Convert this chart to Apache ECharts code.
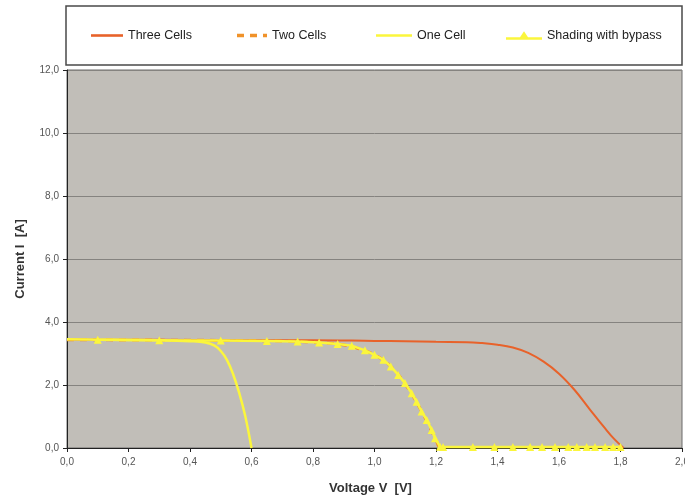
<!DOCTYPE html>
<html>
<head>
<meta charset="utf-8">
<script src="https://cdn.jsdelivr.net/npm/echarts@6/dist/echarts.min.js"></script>
<style>html,body{margin:0;padding:0;background:#fff}#c{width:685px;height:500px}</style>
</head>
<body>
<div id="c"></div>
<script>
// Data (Voltage V, Current A)
var seriesNames = ['Three Cells', 'Two Cells', 'One Cell', 'Shading with bypass'];
var xTicks = [0, 0.2, 0.4, 0.6, 0.8, 1.0, 1.2, 1.4, 1.6, 1.8, 2.0];
var yTicks = [0, 2, 4, 6, 8, 10, 12];

var threeCellsV = [0, 0.1, 0.2, 0.4, 0.6, 0.8, 1.0, 1.1, 1.2, 1.3, 1.35, 1.4, 1.45, 1.5, 1.55, 1.6, 1.65, 1.7, 1.75, 1.78, 1.81];
var threeCellsI = [3.45, 3.44, 3.44, 3.43, 3.42, 3.42, 3.40, 3.39, 3.37, 3.36, 3.33, 3.28, 3.19, 3.02, 2.74, 2.36, 1.85, 1.23, 0.62, 0.28, 0];

var twoCellsV = [0, 0.2, 0.4, 0.6, 0.7, 0.8, 0.85, 0.9, 0.95, 1.0, 1.05, 1.1, 1.15, 1.2, 1.21];
var twoCellsI = [3.44, 3.43, 3.42, 3.41, 3.40, 3.36, 3.33, 3.27, 3.15, 2.96, 2.62, 2.03, 1.22, 0.25, 0];

var oneCellV = [0, 0.1, 0.2, 0.3, 0.4, 0.45, 0.48, 0.5, 0.52, 0.54, 0.56, 0.58, 0.6];
var oneCellI = [3.45, 3.44, 3.43, 3.42, 3.39, 3.35, 3.25, 3.08, 2.80, 2.35, 1.75, 1.0, 0];

var shadingV = [0.1, 0.3, 0.5, 0.65, 0.75, 0.82, 0.88, 0.926, 0.969, 1.0, 1.029, 1.053, 1.077, 1.099, 1.121, 1.137, 1.153, 1.17, 1.186, 1.197, 1.213, 1.223, 1.32, 1.39, 1.45, 1.506, 1.545, 1.587, 1.63, 1.658, 1.69, 1.717, 1.75, 1.776, 1.8];
var shadingI = [3.44, 3.42, 3.41, 3.40, 3.38, 3.35, 3.30, 3.25, 3.10, 2.96, 2.80, 2.59, 2.32, 2.06, 1.74, 1.47, 1.16, 0.89, 0.57, 0.31, 0.04, 0.03, 0.03, 0.03, 0.03, 0.03, 0.03, 0.03, 0.03, 0.03, 0.03, 0.03, 0.03, 0.03, 0.03];

function pairs(xs, ys) { return xs.map(function (x, i) { return [x, ys[i]]; }); }
function fmt(v) { return v.toFixed(1).replace('.', ','); }

var YEL = '#fbf63c';
var ORG = '#e8622a';
var ORG2 = '#f0922a';
var FONT = 'Liberation Sans, Arial, sans-serif';
var chart = echarts.init(document.getElementById('c'), null, {renderer: 'canvas'});
var legendText = {fontFamily: FONT, fontSize: 12.5, color: '#222'};
function leg(name, left, w, icon) {
  return {data: [{name: name, icon: icon}], left: left, top: 29, itemWidth: w, itemHeight: 14, itemGap: 0,
          padding: 0, textStyle: legendText};
}
chart.setOption({
  animation: false,
  backgroundColor: '#fff',
  graphic: [{
    type: 'rect', z: -10, silent: true,
    shape: {x: 66, y: 6, width: 616, height: 59},
    style: {fill: '#fff', stroke: '#4a4a4a', lineWidth: 1.5}
  }],
  legend: [
    leg(seriesNames[0], 91, 32, 'path://M0,0h32v2.6h-32z'),
    leg(seriesNames[1], 237, 30, 'path://M0,0h7v3.5h-7zM13,0h7v3.5h-7zM26,0h4v3.5h-4z'),
    leg(seriesNames[2], 376, 36, 'path://M0,0h36v2.6h-36z'),
    leg(seriesNames[3], 506, 36, 'path://M0,6h14l4,-6l4,6h14v2.6h-36z')
  ],
  grid: {left: 67, right: 3, top: 70, bottom: 52, outerBoundsMode: 'none', containLabel: false,
         show: true, backgroundColor: '#c1beb8', borderColor: '#6a6a6a', borderWidth: 1},
  xAxis: {
    type: 'value', min: xTicks[0], max: xTicks[xTicks.length - 1], interval: 0.2,
    name: 'Voltage V  [V]', nameLocation: 'middle', nameGap: 34,
    nameTextStyle: {fontFamily: FONT, fontSize: 13, fontWeight: 'bold', color: '#333', padding: [0, 8, 0, 0]},
    axisLine: {show: true, lineStyle: {color: '#222', width: 1}},
    axisTick: {show: true, length: 4, lineStyle: {color: '#222'}},
    axisLabel: {formatter: fmt, fontFamily: FONT, fontSize: 10, color: '#555', margin: 9, hideOverlap: false},
    splitLine: {show: false}
  },
  yAxis: {
    type: 'value', min: yTicks[0], max: yTicks[yTicks.length - 1], interval: 2,
    name: 'Current I  [A]', nameLocation: 'middle', nameGap: 40,
    nameTextStyle: {fontFamily: FONT, fontSize: 13, fontWeight: 'bold', color: '#333'},
    axisLine: {show: true, lineStyle: {color: '#222', width: 1}},
    axisTick: {show: true, length: 4, lineStyle: {color: '#222'}},
    axisLabel: {formatter: fmt, fontFamily: FONT, fontSize: 10, color: '#555', margin: 8},
    splitLine: {show: true, lineStyle: {color: '#85837f', width: 1}}
  },
  series: [
    {name: seriesNames[0], type: 'line', data: pairs(threeCellsV, threeCellsI), symbol: 'none', smooth: 0.4,
     lineStyle: {color: ORG, width: 2}, itemStyle: {color: ORG}},
    {name: seriesNames[1], type: 'line', data: pairs(twoCellsV, twoCellsI), symbol: 'none', smooth: 0.4,
     lineStyle: {color: ORG2, width: 3, type: [7, 6]}, itemStyle: {color: ORG2}},
    {name: seriesNames[2], type: 'line', data: pairs(oneCellV, oneCellI), symbol: 'none', smooth: 0.4,
     lineStyle: {color: YEL, width: 2.5}, itemStyle: {color: YEL}},
    {name: seriesNames[3], type: 'line', data: pairs(shadingV, shadingI), symbol: 'triangle', symbolSize: 8, showAllSymbol: true,
     lineStyle: {color: YEL, width: 2.5}, itemStyle: {color: YEL}}
  ]
});
</script>
</body>
</html>
